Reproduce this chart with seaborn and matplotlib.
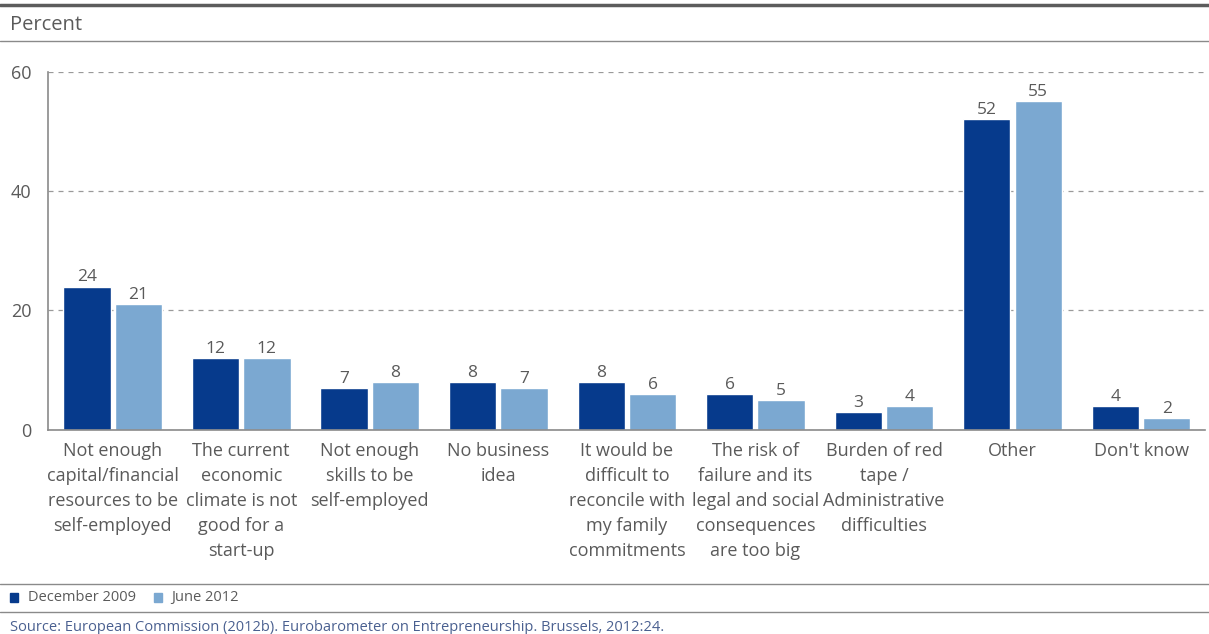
import numpy as np
import pandas as pd
import matplotlib.pyplot as plt
from matplotlib.lines import Line2D
from matplotlib.patches import Rectangle
import seaborn as sns

# data
categories = [
    "Not enough\ncapital/financial\nresources to be\nself-employed",
    "The current\neconomic\nclimate is not\ngood for a\nstart-up",
    "Not enough\nskills to be\nself-employed",
    "No business\nidea",
    "It would be\ndifficult to\nreconcile with\nmy family\ncommitments",
    "The risk of\nfailure and its\nlegal and social\nconsequences\nare too big",
    "Burden of red\ntape /\nAdministrative\ndifficulties",
    "Other",
    "Don't know",
]
dec_2009 = [24, 12, 7, 8, 8, 6, 3, 52, 4]
jun_2012 = [21, 12, 8, 7, 6, 5, 4, 55, 2]
series = ["December 2009", "June 2012"]
colors = ["#063a8c", "#7ba8d1"]

df = pd.DataFrame({
    "cat": categories * 2,
    "value": dec_2009 + jun_2012,
    "period": [series[0]] * len(categories) + [series[1]] * len(categories),
})

sns.set_style("white")
plt.rcParams["font.family"] = ["Open Sans", "DejaVu Sans"]
grey = "#5a5a5a"

fig = plt.figure(figsize=(12.09, 6.34), dpi=100)
ax = fig.add_axes([0.040, 0.322, 0.957, 0.565])

sns.barplot(data=df, x="cat", y="value", hue="period", palette=colors,
            width=0.8, gap=0.08, saturation=1, legend=False, ax=ax)

for cont in ax.containers:
    ax.bar_label(cont, fmt="%d", padding=1, fontsize=12.5, color=grey)

ax.set_ylim(0, 60)
ax.set_xlim(-0.5, len(categories) - 0.5)
ax.set_yticks([0, 20, 40, 60])
ax.yaxis.grid(True, linestyle=(0, (4, 4)), color="#9a9a9a", linewidth=0.9)
ax.set_axisbelow(True)
for s in ["top", "right"]:
    ax.spines[s].set_visible(False)
for s in ["left", "bottom"]:
    ax.spines[s].set_color("#8a8a8a")
    ax.spines[s].set_linewidth(1.2)

ax.set_xlabel("")
ax.set_ylabel("")
ax.tick_params(axis="y", length=0, labelsize=13, labelcolor=grey, pad=12)
ax.tick_params(axis="x", length=0, labelsize=13, labelcolor=grey, pad=9)
for lbl in ax.get_xticklabels():
    lbl.set_linespacing(1.5)
ax.set_xticks(np.arange(0.5, len(categories) - 1, 1), minor=True)
ax.tick_params(axis="x", which="minor", direction="in", length=6, color="#8a8a8a")

# header and footer
fig.add_artist(Line2D([0.0, 1.0], [0.992, 0.992], color="#5c5c5c", linewidth=2.5))
fig.text(0.008, 0.960, "Percent", fontsize=14.5, color=grey, va="center")
fig.add_artist(Line2D([0.0, 1.0], [0.935, 0.935], color="#8a8a8a", linewidth=1))
fig.add_artist(Line2D([0.0, 1.0], [0.079, 0.079], color="#8a8a8a", linewidth=1))
fig.add_artist(Line2D([0.0, 1.0], [0.035, 0.035], color="#8a8a8a", linewidth=1))

legend_x = [0.008, 0.127]
for x, label, c in zip(legend_x, series, colors):
    fig.add_artist(Rectangle((x, 0.050), 0.007, 0.014, color=c, transform=fig.transFigure))
    fig.text(x + 0.015, 0.057, label, fontsize=10.5, color=grey, va="center")

fig.text(0.008, 0.010,
         "Source: European Commission (2012b). Eurobarometer on Entrepreneurship. Brussels, 2012:24.",
         fontsize=10.5, color="#4a6090", va="center")

fig.savefig("out.png", dpi=100)
